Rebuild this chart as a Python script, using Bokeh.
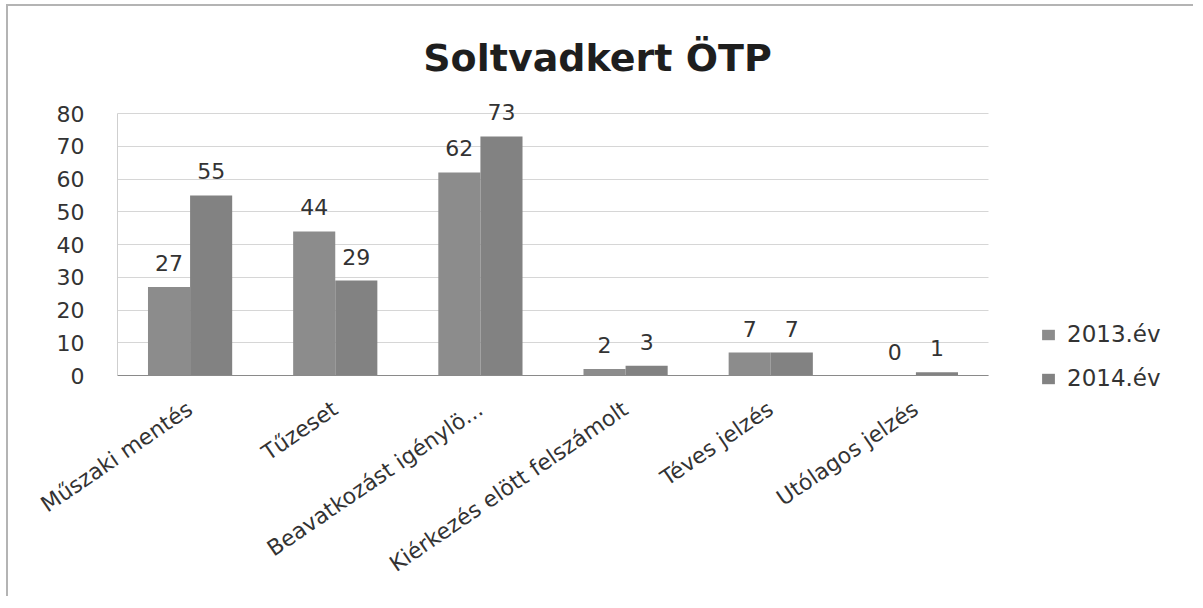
from bokeh.plotting import figure
from bokeh.models import (ColumnDataSource, Range1d, Legend, LegendItem,
                          SingleIntervalTicker, FixedTicker, Label)
from bokeh.transform import dodge
from bokeh.core.properties import value
from bokeh.embed import file_html
from bokeh.resources import INLINE

# ---- data ----
categories = ["Műszaki mentés", "Tűzeset", "Beavatkozást igénylö...",
              "Kiérkezés elött felszámolt", "Téves jelzés", "Utólagos jelzés"]
series_names = ["2013.év", "2014.év"]
values_2013 = [27, 44, 62, 2, 7, 0]
values_2014 = [55, 29, 73, 3, 7, 1]
y_max = 80
y_step = 10
title_text = "Soltvadkert ÖTP"

FONT = "DejaVu Sans"
n = len(categories)
positions = [i + 0.5 for i in range(n)]

src = ColumnDataSource(dict(
    x=positions,
    v13=values_2013,
    v14=values_2014,
    t13=[str(v) for v in values_2013],
    t14=[str(v) for v in values_2014],
))

# layout geometry (pixels) -> the frame covers the whole canvas
W, H = 1187, 592
plot_left, plot_right_cat = 109, 980      # px from canvas left: y axis / end of categories
zero_y, top_y = 369, 107                  # px from canvas top: value 0 / value y_max
px_per_cat = (plot_right_cat - plot_left) / n
px_per_val = (zero_y - top_y) / y_max

p = figure(
    x_range=Range1d(-plot_left / px_per_cat, (W - plot_left) / px_per_cat),
    y_range=Range1d(-(H - zero_y) / px_per_val, zero_y / px_per_val),
    width=W, height=H,
    output_backend="svg", toolbar_location=None,
    min_border=0,
)
p.styles = {"border-left": "2px solid #b4b4b4", "border-top": "2px solid #b4b4b4",
            "margin-left": "6px", "margin-top": "4px"}
p.background_fill_color = "white"
p.border_fill_color = "white"
p.outline_line_color = None

w = 0.29
r13 = p.vbar(x=dodge("x", -w / 2), top="v13", width=w, source=src,
             fill_color="#8c8c8c", line_color=None)
r14 = p.vbar(x=dodge("x", w / 2), top="v14", width=w, source=src,
             fill_color="#828282", line_color=None)

for col, top, off in (("t13", "v13", -w / 2), ("t14", "v14", w / 2)):
    p.text(x=dodge("x", off), y=top, text=col, source=src,
           text_font=value(FONT), text_font_size="22px", text_color="#333333",
           text_align="center", text_baseline="bottom", y_offset=-16)

# axes
p.yaxis.fixed_location = 0
p.yaxis.bounds = (0, y_max)
p.yaxis.ticker = SingleIntervalTicker(interval=y_step)
p.yaxis.axis_line_color = "#cfcfcf"
p.yaxis.major_tick_line_color = None
p.yaxis.minor_tick_line_color = None
p.yaxis.major_tick_out = 0
p.yaxis.major_label_standoff = 29
p.yaxis.major_label_text_font = FONT
p.yaxis.major_label_text_font_size = "22px"
p.yaxis.major_label_text_color = "#333333"

p.xaxis.fixed_location = 0
p.xaxis.bounds = (0, n)
p.xaxis.ticker = FixedTicker(ticks=positions)
p.xaxis.major_label_overrides = {pos: cat for pos, cat in zip(positions, categories)}
p.xaxis.axis_line_color = "#8a8a8a"
p.xaxis.major_tick_line_color = None
p.xaxis.minor_tick_line_color = None
p.xaxis.major_tick_out = 0
p.xaxis.major_label_orientation = 0.6
p.xaxis.major_label_standoff = 31
p.xaxis.major_label_text_font = FONT
p.xaxis.major_label_text_font_size = "22px"
p.xaxis.major_label_text_color = "#333333"

p.xgrid.grid_line_color = None
p.ygrid.grid_line_color = "#d6d6d6"
p.ygrid.grid_line_width = 1
p.ygrid.cross_bounds = (0, n)

legend = Legend(
    items=[LegendItem(label=series_names[0], renderers=[r13]),
           LegendItem(label=series_names[1], renderers=[r14])],
    location=(1032, 207),
    glyph_width=16, glyph_height=13,
    label_standoff=11, spacing=18, padding=0, margin=0,
    label_text_font=FONT, label_text_font_size="23px", label_text_color="#333333",
    border_line_color=None, background_fill_alpha=0,
)
p.add_layout(legend, "center")

title = Label(x=589, y=H - 51, x_units="screen", y_units="screen", text=title_text,
              text_font=FONT, text_font_style="bold", text_font_size="38px",
              text_color="#1e1e1e", text_align="center", text_baseline="middle")
p.add_layout(title)

open("out.html", "w").write(file_html(p, INLINE))
